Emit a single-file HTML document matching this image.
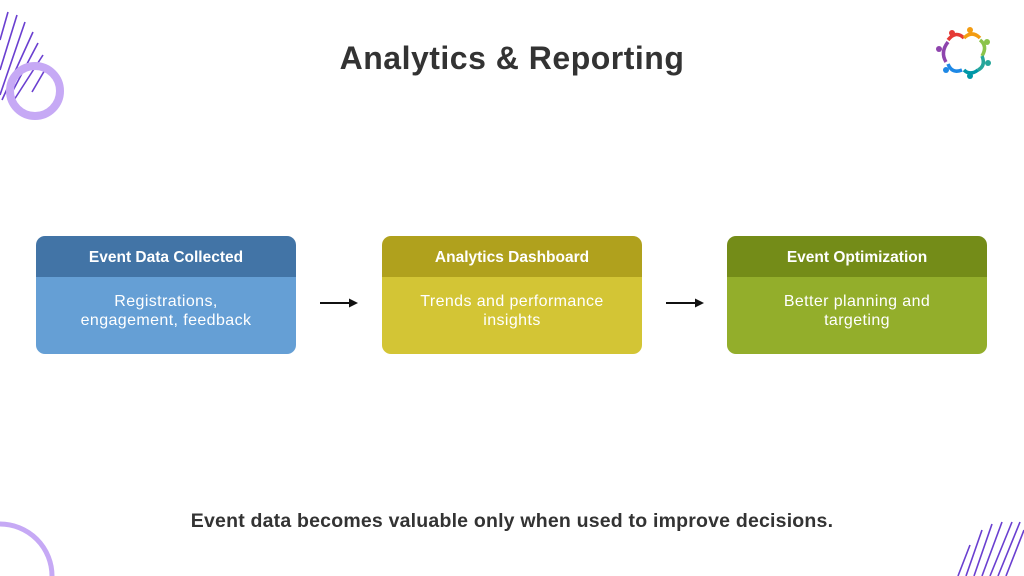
<!DOCTYPE html>
<html style="overflow:hidden"><head><style>
html,body{margin:0;width:1024px;height:576px;overflow:hidden}
body{background:#fff;position:relative;font-family:"Liberation Sans",sans-serif}
.t{position:absolute;left:0;width:1024px;text-align:center}
.box{position:absolute;top:236px;width:260px;height:118px;border-radius:9px;overflow:hidden;color:#fff;text-align:center}
.h{height:41px;line-height:44px;font-weight:bold;font-size:15.5px}
.b{font-size:16px;letter-spacing:0.4px;line-height:19px;padding-top:15px;height:62px}
</style></head><body>
<svg width="1024" height="576" style="position:absolute;left:0;top:0">
<g stroke="#6a3fd0" stroke-width="1.6">
<line x1="0" y1="40" x2="8" y2="12"/><line x1="0" y1="70" x2="17" y2="15"/><line x1="0" y1="95" x2="25" y2="22"/><line x1="2" y1="100" x2="33" y2="32"/><line x1="8" y1="100" x2="38" y2="43"/><line x1="14" y1="100" x2="43" y2="55"/><line x1="32" y1="92" x2="46" y2="68"/>
<line x1="958" y1="576" x2="970" y2="545"/><line x1="966" y1="576" x2="982" y2="530"/><line x1="974" y1="576" x2="992" y2="524"/><line x1="982" y1="576" x2="1002" y2="522"/><line x1="990" y1="576" x2="1012" y2="522"/><line x1="998" y1="576" x2="1020" y2="522"/><line x1="1006" y1="576" x2="1024" y2="530"/>
</g>
<circle cx="35" cy="91" r="25" fill="none" stroke="#c6a9f5" stroke-width="8"/>
<circle cx="0" cy="576" r="52" fill="none" stroke="#c6a9f5" stroke-width="5"/>
<g stroke-width="3.5" fill="none">
<path d="M948 40 q8 -10 16 -2" stroke="#e53935"/><path d="M964 38 q8 -8 16 0" stroke="#f39c12"/><path d="M980 40 q8 6 2 16" stroke="#8bc34a"/><path d="M982 56 q4 10 -4 14" stroke="#26a69a"/><path d="M978 70 q-8 6 -14 0" stroke="#0097a7"/><path d="M962 70 q-10 4 -14 -6" stroke="#1e88e5"/><path d="M946 62 q-6 -10 2 -20" stroke="#8e44ad"/>
</g>
<g><circle cx="952" cy="33" r="3" fill="#e53935"/><circle cx="970" cy="30" r="3" fill="#f39c12"/><circle cx="987" cy="42" r="3" fill="#8bc34a"/><circle cx="988" cy="63" r="3" fill="#26a69a"/><circle cx="970" cy="76" r="3" fill="#0097a7"/><circle cx="946" cy="70" r="3" fill="#1e88e5"/><circle cx="939" cy="49" r="3" fill="#8e44ad"/></g>
<g stroke="#111" stroke-width="2"><line x1="320" y1="303" x2="350" y2="303"/><line x1="666" y1="303" x2="696" y2="303"/></g>
<polygon points="358,303 349,298.5 349,307.5" fill="#111"/><polygon points="704,303 695,298.5 695,307.5" fill="#111"/>
</svg>
<div class="t" style="top:40px;font-size:32px;font-weight:bold;color:#333;letter-spacing:0.5px">Analytics &amp; Reporting</div>
<div class="box" style="left:36px"><div class="h" style="background:#4274a6">Event Data Collected</div><div class="b" style="background:#659fd5">Registrations,<br>engagement, feedback</div></div>
<div class="box" style="left:382px"><div class="h" style="background:#b0a11d">Analytics Dashboard</div><div class="b" style="background:#d3c535">Trends and performance<br>insights</div></div>
<div class="box" style="left:727px"><div class="h" style="background:#748c18">Event Optimization</div><div class="b" style="background:#93ae2b">Better planning and<br>targeting</div></div>
<div class="t" style="top:510px;font-size:19.5px;font-weight:bold;color:#333;letter-spacing:0.2px">Event data becomes valuable only when used to improve decisions.</div>
</body></html>
